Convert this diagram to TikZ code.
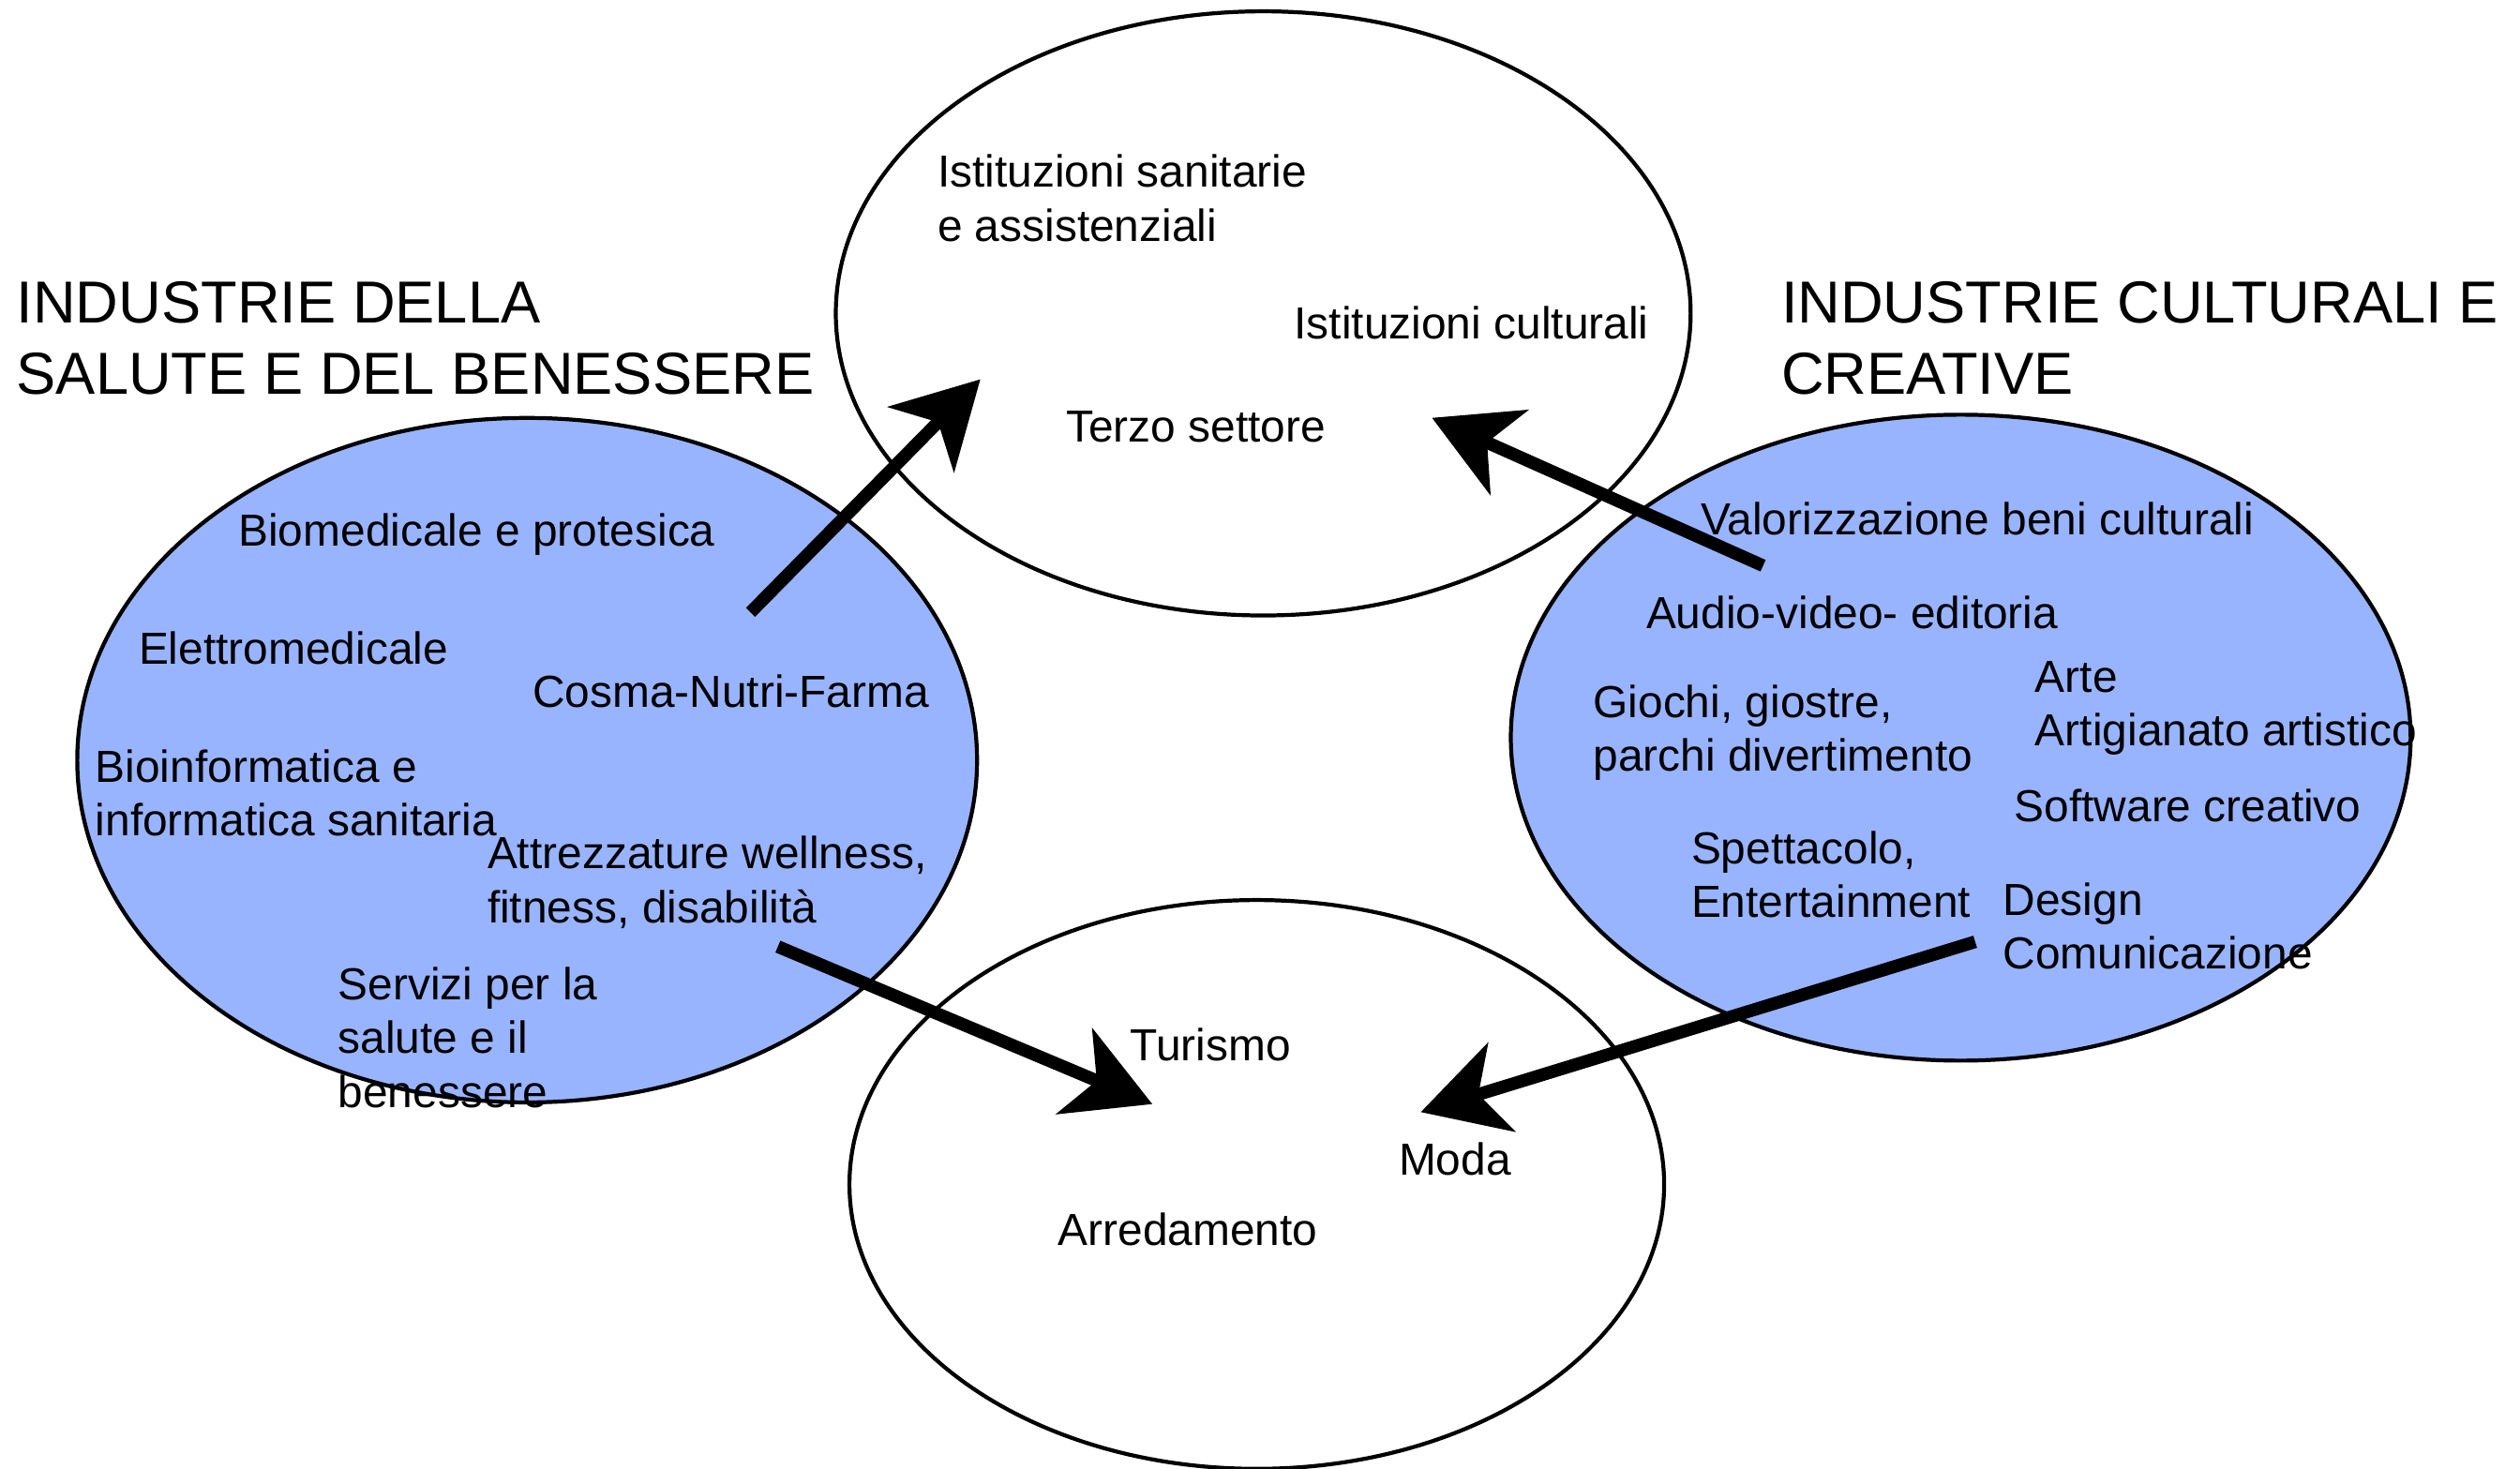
\documentclass[tikz,border=0pt]{standalone}
\usepackage{fontspec}
\setmainfont{Liberation Sans}
\usetikzlibrary{shapes.geometric,arrows.meta}
\definecolor{setblue}{RGB}{153,180,255}
\tikzset{
  sector/.style={ellipse,draw,line width=1.4pt,inner sep=0pt},
  item/.style={anchor=base west,inner sep=0pt,align=left,font=\fontsize{15.9}{19}\selectfont},
  title/.style={anchor=base west,inner sep=0pt,align=left,font=\fontsize{21}{25}\selectfont},
  push/.style={line width=4.5pt,-{Stealth[length=10.5mm,width=11.5mm,inset=3mm]}},
}
\begin{document}
\begin{tikzpicture}[x=0.02cm,y=-0.02cm]
  \useasboundingbox (0,0) rectangle (1568,914);
  % the four sectors
  \node [sector,fill=white,minimum width=10.64cm,minimum height=7.52cm] (ist) at (786,195) {};
  \node [sector,fill=white,minimum width=10.14cm,minimum height=7.08cm] (mad) at (782,737) {};
  \node [sector,fill=setblue,minimum width=11.2cm,minimum height=8.52cm] (sal) at (328,473) {};
  \node [sector,fill=setblue,minimum width=11.2cm,minimum height=8.04cm] (cul) at (1220,459) {};
  % headings (placed at the baseline of the last line)
  \node [title] (hsal) at (10,245) {INDUSTRIE DELLA\\SALUTE E DEL BENESSERE};
  \node [title] (hcul) at (1108,245) {INDUSTRIE CULTURALI E\\CREATIVE};
  % institutions
  \node [item] (istsan) at (583,150) {Istituzioni sanitarie\\e assistenziali};
  \node [item] (istcul) at (805,211) {Istituzioni culturali};
  \node [item] (terzo) at (663,275) {Terzo settore};
  % health and wellbeing
  \node [item] (biomed) at (148,340) {Biomedicale e protesica};
  \node [item] (elettro) at (86,413) {Elettromedicale};
  \node [item] (cosma) at (331,440) {Cosma-Nutri-Farma};
  \node [item] (bioinf) at (59,520) {Bioinformatica e\\informatica sanitaria};
  \node [item] (attrez) at (303,574) {Attrezzature wellness,\\fitness, disabilità};
  \node [item] (servizi) at (210,689) {Servizi per la\\salute e il\\benessere};
  % culture and creativity
  \node [item] (valor) at (1058,333) {Valorizzazione beni culturali};
  \node [item] (audio) at (1024,391) {Audio-video- editoria};
  \node [item] (arte) at (1266,464) {Arte\\Artigianato artistico};
  \node [item] (giochi) at (991,480) {Giochi, giostre,\\parchi divertimento};
  \node [item] (soft) at (1253,511) {Software creativo};
  \node [item] (spett) at (1052,571) {Spettacolo,\\Entertainment};
  \node [item] (design) at (1246,603) {Design\\Comunicazione};
  % made in Italy
  \node [item] (turismo) at (703,660) {Turismo};
  \node [item] (moda) at (870,731) {Moda};
  \node [item] (arred) at (658,775) {Arredamento};
  % arrows
  \coordinate (s1) at (467,381); \coordinate (t1) at (610,236);
  \coordinate (s2) at (1097,352); \coordinate (t2) at (891,260);
  \coordinate (s3) at (484,589); \coordinate (t3) at (717,687);
  \coordinate (s4) at (1229,586); \coordinate (t4) at (884,692);
  \draw [push] (s1) -- (t1);
  \draw [push] (s2) -- (t2);
  \draw [push] (s3) -- (t3);
  \draw [push] (s4) -- (t4);
\end{tikzpicture}
\end{document}
